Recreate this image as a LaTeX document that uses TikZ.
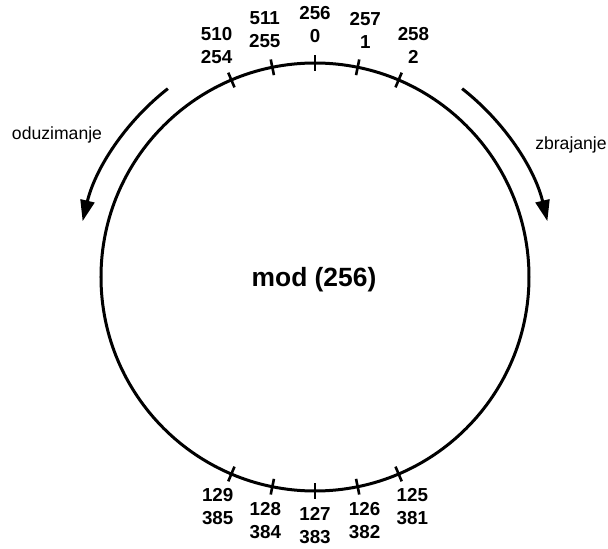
\documentclass[tikz,border=0pt]{standalone}
\usepackage{fontspec}
\setmainfont{Liberation Sans}
\usetikzlibrary{arrows.meta, positioning}

\begin{document}
\begin{tikzpicture}[
  x=1pt,y=1pt,
  ring/.style={line width=3pt, draw=black},
  tick/.style={line width=2.6pt, draw=black},
  sweep/.style={line width=3pt, draw=black, -{Triangle[length=21pt, width=14pt]}},
  numlbl/.style={align=center, inner sep=0pt, font=\fontsize{18.8}{23}\selectfont\bfseries},
  sidelbl/.style={inner sep=0pt, font=\fontsize{17.6}{20}\selectfont},
  title/.style={inner sep=0pt, font=\fontsize{26.4}{30}\selectfont\bfseries}
]
\useasboundingbox (-315,-272) rectangle (293,277);

% ---- ring ----
\node[circle, minimum size=428pt, inner sep=0pt] (ring) at (0,0) {};
\draw[ring] (ring.center) circle[radius=214];
\node[title] (mod) at (-1,-3) {mod (256)};

% ---- ticks and numbers ----
\foreach \a/\up/\lo/\r in {113/510/254/252, 101.5/511/255/252, 90/256/0/252, 78.5/257/1/252, 67/258/2/252,
                        247/129/385/249, 258.5/128/384/249, 270/127/383/249, 281.5/126/382/249, 293/125/381/249}{
  \draw[tick] (\a:206) -- (\a:222);
  \node[numlbl] (n\up) at (\a:\r) {\up\\\lo};
}

% ---- direction arrows ----
\draw[sweep] (128:239) arc[start angle=128, end angle=166.5, radius=239];
\draw[sweep] (52:239) arc[start angle=52, end angle=13.5, radius=239];

\node[sidelbl] (sub) at (-258,142) {oduzimanje};
\node[sidelbl] (add) at (256,132) {zbrajanje};

\end{tikzpicture}
\end{document}
